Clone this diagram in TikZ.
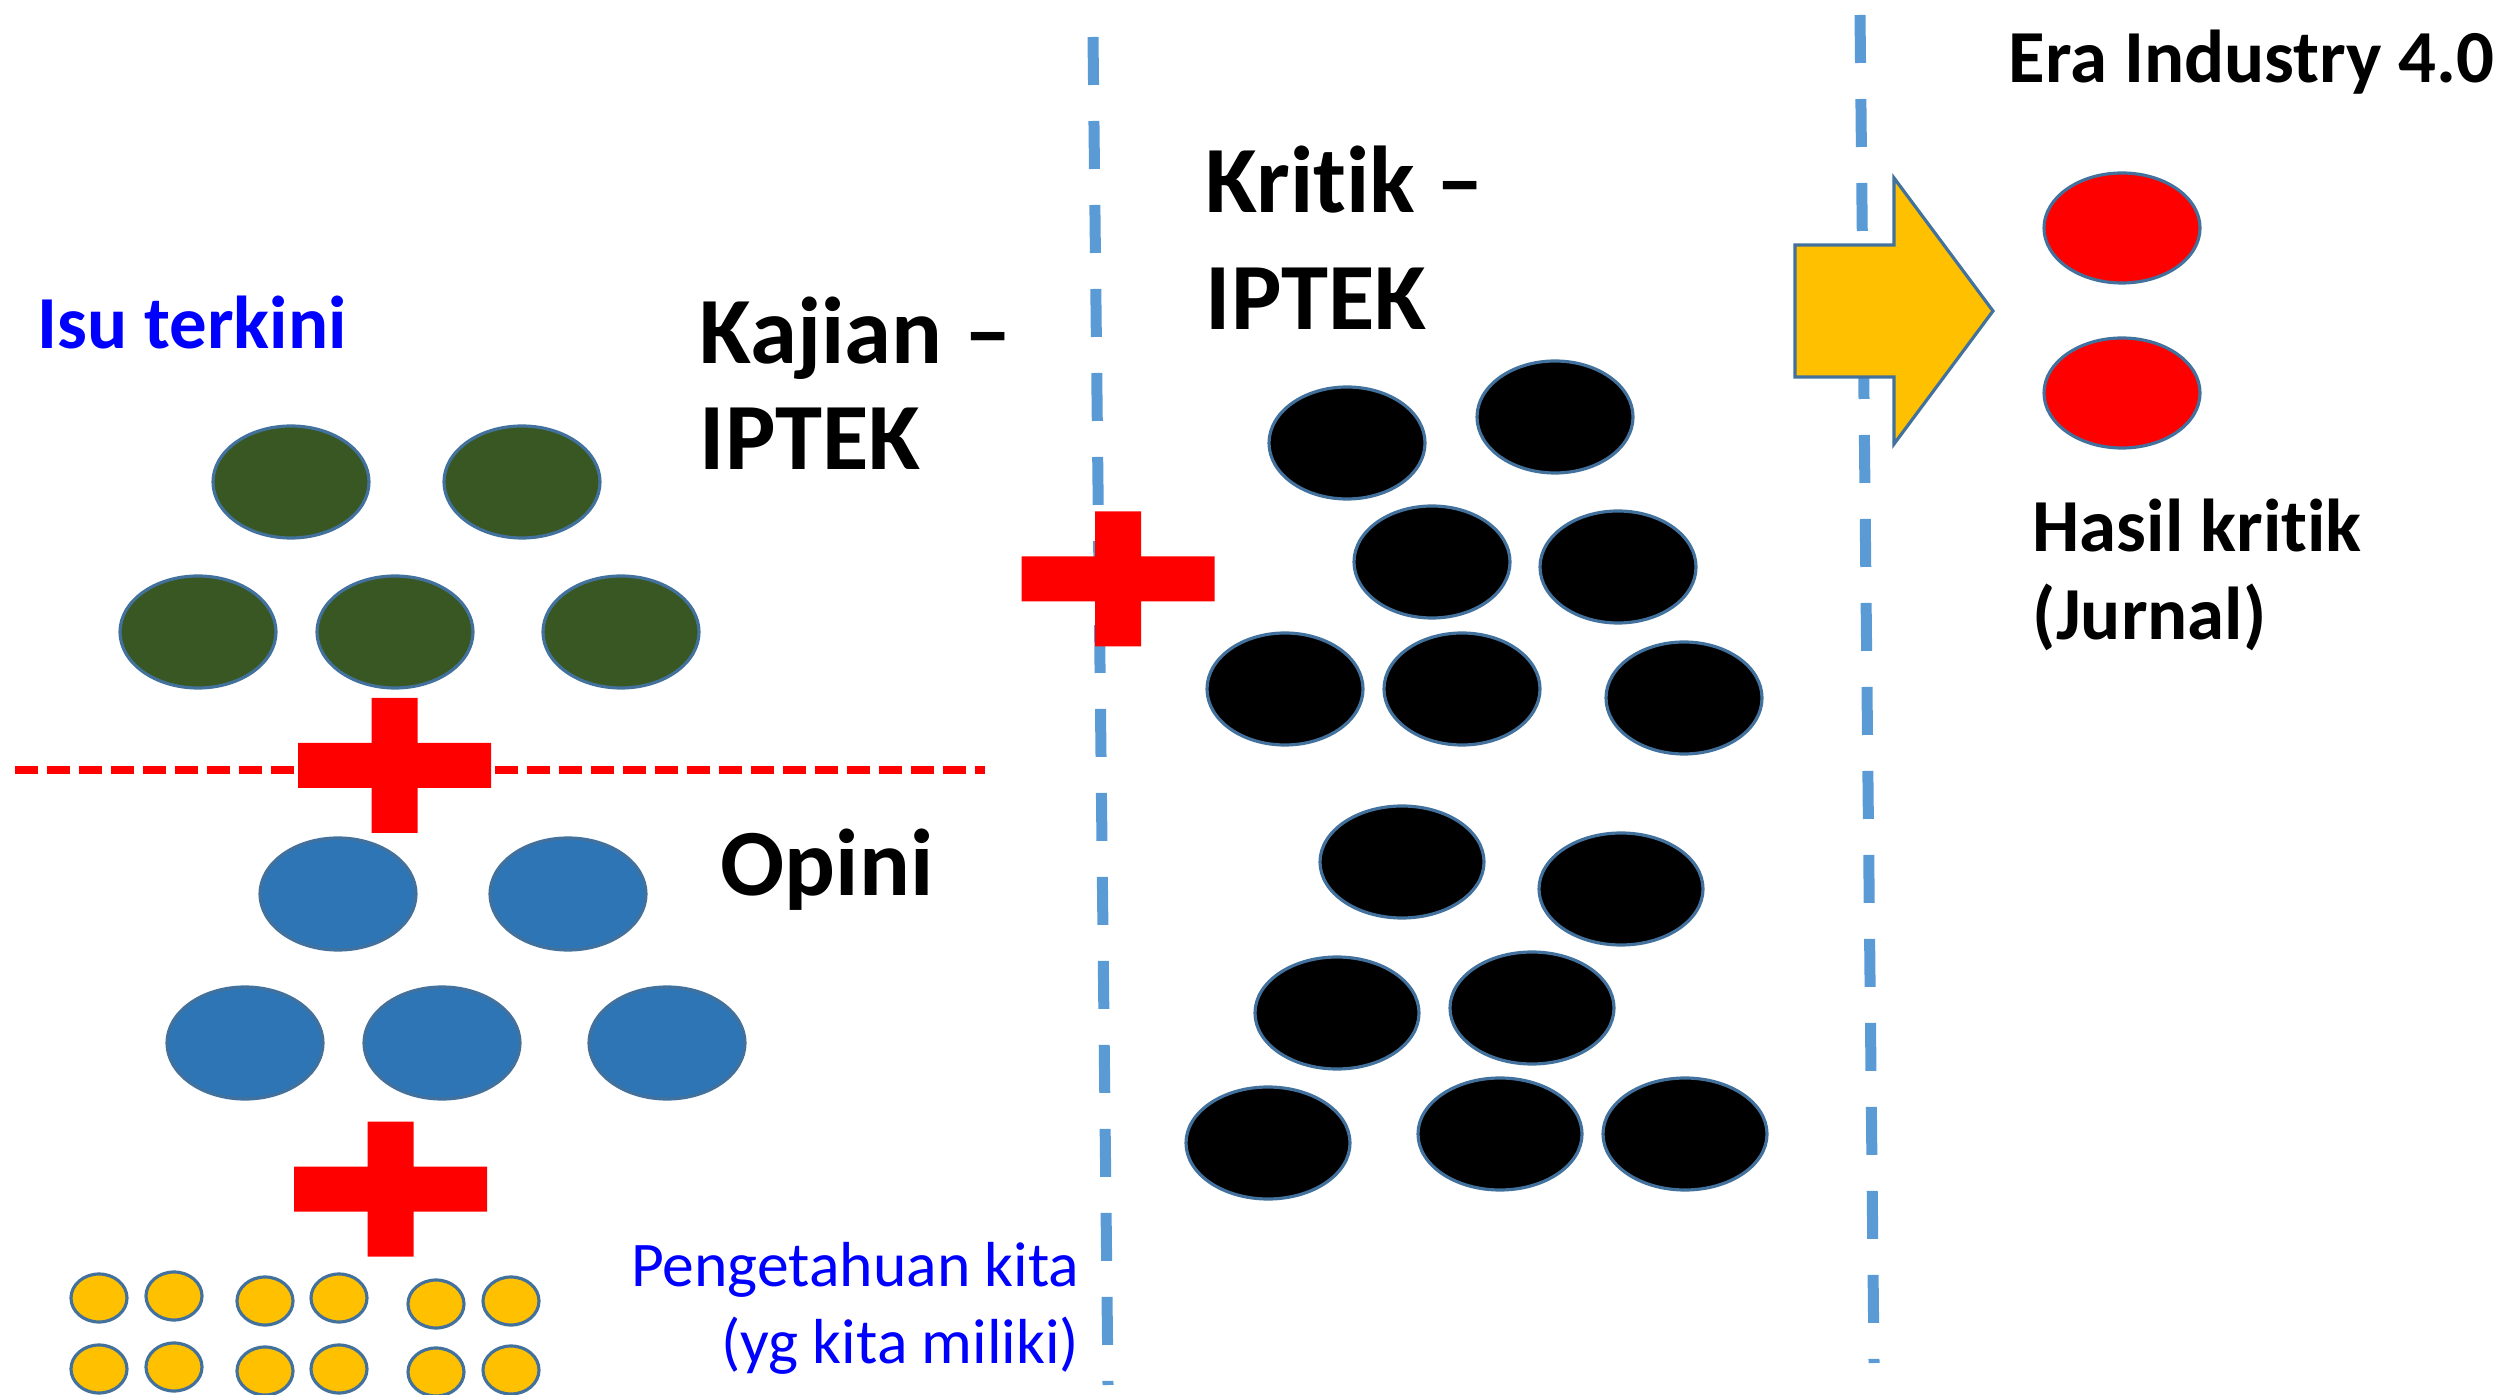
\documentclass[tikz,border=0pt]{standalone}
\usepackage{fontspec}
\setmainfont{Carlito}[Ligatures=NoCommon]
\usetikzlibrary{positioning}
\definecolor{leaf}{HTML}{385723}
\definecolor{sea}{HTML}{2E75B6}
\definecolor{amber}{HTML}{FFC000}
\definecolor{rim}{HTML}{41719C}
\definecolor{sky}{HTML}{5B9BD5}
\tikzset{
    blob/.style={draw=rim, line width=0.9pt},
    divider/.style={sky, line width=0.11cm, dash pattern=on 0.48cm off 0.36cm},
    redplus/.pic={
        \fill[red] (-0.965,-0.225) rectangle (0.965,0.225)
                   (-0.23,-0.675) rectangle (0.23,0.675);
    },
    big/.style={font=\bfseries\fontsize{27}{30.4}\selectfont, inner sep=0pt, align=left},
    mid/.style={font=\bfseries\fontsize{21.3}{25.3}\selectfont, inner sep=0pt, align=left},
}

\begin{document}
\begin{tikzpicture}
    \useasboundingbox (0,0) rectangle (25.09,13.94);

    \draw[divider] (10.93,13.57) -- (11.08,0.09);
    \draw[divider] (18.60,13.79) -- (18.74,0.31);
    \draw[red, line width=0.08cm, dash pattern=on 0.23cm off 0.09cm] (0.15,6.24) -- (9.85,6.24);

    % issues, opinions and what we know
    \foreach \x/\y in {2.91/9.12, 5.22/9.12, 1.98/7.62, 3.95/7.62, 6.21/7.62}
        \filldraw[blob, fill=leaf] (\x,\y) ellipse [x radius=0.78, y radius=0.56];
    \foreach \x/\y in {3.38/5.00, 5.68/5.00, 2.45/3.51, 4.42/3.51, 6.67/3.51}
        \filldraw[blob, fill=sea] (\x,\y) ellipse [x radius=0.78, y radius=0.56];
    \foreach \x/\y/\z in {0.99/0.96/0.25, 1.74/0.98/0.27, 2.65/0.93/0.23,
                          3.39/0.96/0.25, 4.36/0.90/0.22, 5.11/0.93/0.24} {
        \filldraw[blob, fill=amber] (\x,\y) ellipse [x radius=0.28, y radius=0.24];
        \filldraw[blob, fill=amber] (\x,\z) ellipse [x radius=0.28, y radius=0.24];
    }

    % critique
    \foreach \x/\y in {13.47/9.51, 15.55/9.77, 14.32/8.32, 16.18/8.27,
                       12.85/7.05, 14.62/7.05, 16.84/6.96}
        \filldraw[blob, fill=black] (\x,\y) ellipse [x radius=0.78, y radius=0.56];
    \foreach \x/\y in {14.02/5.32, 16.21/5.05, 13.37/3.81, 15.32/3.86,
                       12.68/2.51, 15.00/2.60, 16.85/2.60}
        \filldraw[blob, fill=black] (\x,\y) ellipse [x radius=0.82, y radius=0.56];

    % results
    \filldraw[blob, fill=amber] (17.95,11.49) -- (18.94,11.49) -- (18.94,12.16) -- (19.93,10.83)
        -- (18.94,9.50) -- (18.94,10.17) -- (17.95,10.17) -- cycle;
    \foreach \y in {11.66, 10.01}
        \filldraw[blob, fill=red] (21.22,\y) ellipse [x radius=0.78, y radius=0.55];

    \pic at (3.945,6.285) {redplus};
    \pic at (3.905,2.05) {redplus};
    \pic at (11.18,8.15) {redplus};

    % base anchor sits on the last line
    \node[mid, anchor=base west, text=blue] (isu) at (0.37,10.45) {Isu terkini};
    \node[big, anchor=base west] (kajian) at (6.99,9.24) {Kajian –\\IPTEK};
    \node[big, anchor=base west] (opini) at (7.20,4.98) {Opini};
    \node[big, anchor=base west, font=\bfseries\fontsize{27}{33.3}\selectfont] (kritik) at (12.05,10.64) {Kritik –\\IPTEK};
    \node[mid, anchor=base west] (era) at (20.08,13.11) {Era Industry 4.0};
    \node[mid, anchor=base west] (hasil) at (20.32,7.54) {Hasil kritik\\(Jurnal)};
    \node[anchor=base east, align=right, inner sep=0pt, text=blue,
          font=\fontsize{18.1}{21.9}\selectfont] (tahu) at (10.80,0.31) {Pengetahuan kita\\(yg kita miliki)};
\end{tikzpicture}
\end{document}
